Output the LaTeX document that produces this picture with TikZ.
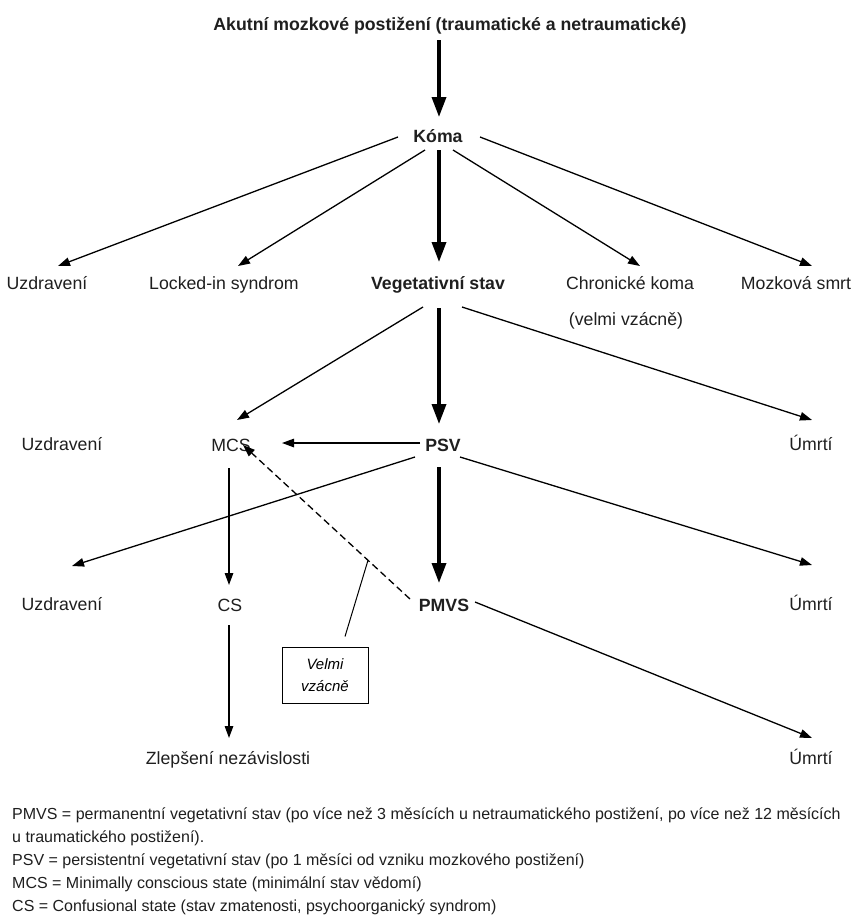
\documentclass[tikz,border=0pt]{standalone}
\usepackage{fontspec}
\setmainfont{Liberation Sans}
\usetikzlibrary{arrows.meta,calc}
\begin{document}
\begin{tikzpicture}[x=1pt,y=-1pt,
  lbl/.style={anchor=base, inner sep=0pt, text=black!88, font=\fontsize{17.7}{21}\selectfont},
  blbl/.style={lbl, font=\fontsize{17.7}{21}\selectfont\bfseries},
  arr/.style={line width=1.3pt, -{Triangle[length=12pt,width=8.5pt]}},
  tarr/.style={line width=3.5pt, -{Triangle[length=20pt,width=14pt]}},
  darr/.style={arr, dash pattern=on 7pt off 4pt},
  leg/.style={anchor=base west, inner sep=0pt, text=black!88, font=\fontsize{16}{19}\selectfont},
  notebox/.style={draw, line width=1pt, minimum width=86pt, minimum height=56pt, align=center, inner sep=0pt, font=\fontsize{15}{22}\selectfont\itshape}]
\useasboundingbox (0,0) rectangle (854,916);
\fill[white] (0,0) rectangle (854,916);
% nodes
\node[blbl] (title) at (450,30) {Akutní mozkové postižení (traumatické a netraumatické)};
\node[blbl] (koma) at (438,142) {Kóma};
\node[lbl] (uz1) at (47,289) {Uzdravení};
\node[lbl] (lis) at (224,289) {Locked-in syndrom};
\node[blbl] (veg) at (438,289) {Vegetativní stav};
\node[lbl] (chk) at (630,289) {Chronické koma};
\node[lbl] (vv) at (626,325) {(velmi vzácně)};
\node[lbl] (mozk) at (796,289) {Mozková smrt};
\node[lbl] (uz2) at (62,450) {Uzdravení};
\node[lbl] (mcs) at (231,451) {MCS};
\node[blbl] (psv) at (443,451) {PSV};
\node[lbl] (um1) at (811,450) {Úmrtí};
\node[lbl] (uz3) at (62,610) {Uzdravení};
\node[lbl] (cs) at (230,611) {CS};
\node[blbl] (pmvs) at (444,611) {PMVS};
\node[lbl] (um2) at (811,610) {Úmrtí};
\node[lbl] (zl) at (228,764) {Zlepšení nezávislosti};
\node[lbl] (um3) at (811,764) {Úmrtí};
\node[notebox] (box) at (325,675) {Velmi\\vzácně};
% connectors
\draw[tarr] ($(title.base)+(-11,10)$) -- ($(koma.base)+(1,-25)$);
\draw[arr] ($(koma.base)+(-40,-5)$) -- ($(uz1.base)+(11,-23)$);
\draw[arr] ($(koma.base)+(-13,8)$) -- ($(lis.base)+(14,-23)$);
\draw[tarr] ($(koma.base)+(1,8)$) -- ($(veg.base)+(1,-27)$);
\draw[arr] ($(koma.base)+(15,8)$) -- ($(chk.base)+(10,-23)$);
\draw[arr] ($(koma.base)+(42,-5)$) -- ($(mozk.base)+(16,-23)$);
\draw[arr] ($(veg.base)+(-15,18)$) -- ($(mcs.base)+(6,-31)$);
\draw[tarr] ($(veg.base)+(1,19)$) -- ($(psv.base)+(-4,-27)$);
\draw[arr] ($(veg.base)+(24,18)$) -- ($(um1.base)+(1,-30)$);
\draw[arr] ($(psv.base)+(-23,-8)$) -- ($(mcs.base)+(51,-8)$);
\draw[arr] ($(psv.base)+(-28,6)$) -- ($(uz3.base)+(10,-44)$);
\draw[tarr] ($(psv.base)+(-4,16)$) -- ($(pmvs.base)+(-5,-28)$);
\draw[arr] ($(psv.base)+(17,6)$) -- ($(um2.base)+(1,-45)$);
\draw[arr] ($(mcs.base)+(-2,17)$) -- ($(cs.base)+(-1,-26)$);
\draw[darr] ($(pmvs.base)+(-34,-12)$) -- coordinate[pos=0.2515] (dp) ($(mcs.base)+(12,-6)$);
\draw[arr] ($(cs.base)+(-1,14)$) -- ($(zl.base)+(1,-26)$);
\draw[arr] ($(pmvs.base)+(31,-9)$) -- ($(um3.base)+(1,-26)$);
\draw[line width=1pt] ($(box.north)+(20,-10)$) -- (dp);
% legend
\node[leg] (l1) at (12,819) {PMVS = permanentní vegetativní stav (po více než 3 měsících u netraumatického postižení, po více než 12 měsících};
\node[leg] (l2) at (12,842) {u traumatického postižení).};
\node[leg] (l3) at (12,865) {PSV = persistentní vegetativní stav (po 1 měsíci od vzniku mozkového postižení)};
\node[leg] (l4) at (12,888) {MCS = Minimally conscious state (minimální stav vědomí)};
\node[leg] (l5) at (12,911) {CS = Confusional state (stav zmatenosti, psychoorganický syndrom)};
\end{tikzpicture}
\end{document}
